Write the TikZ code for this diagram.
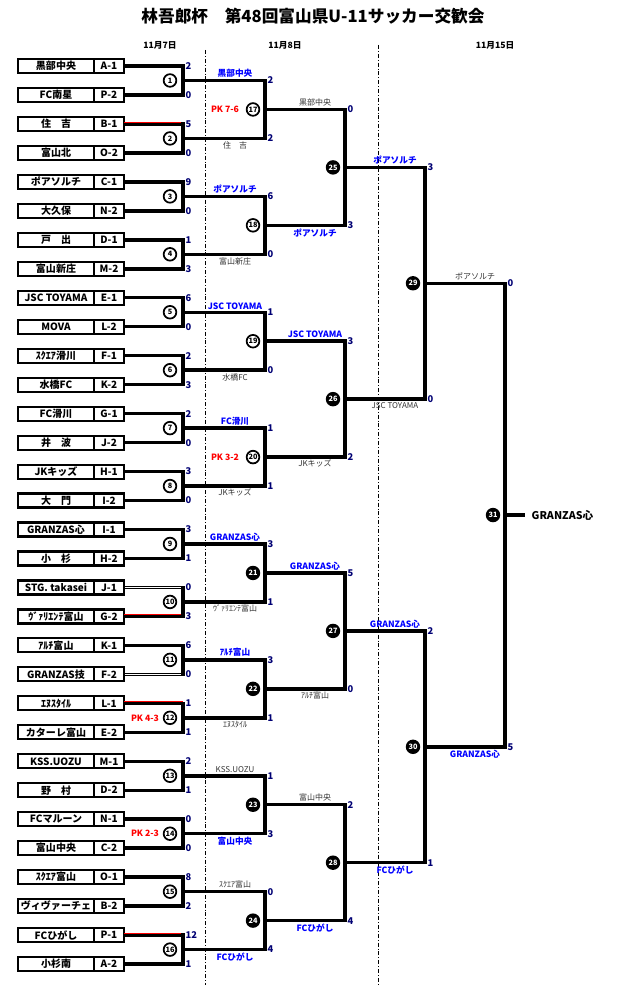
\documentclass[tikz,border=0pt]{standalone}
\usepackage{fontspec}
\setmainfont{Noto Sans CJK JP}
\begin{document}
\begin{tikzpicture}[x=0.75pt,y=-0.75pt,
  namebox/.style={draw,line width=1.6pt,minimum width=57pt,minimum height=10.5pt,inner sep=0pt,font=\fontsize{7.5}{8}\selectfont\bfseries},
  codebox/.style={draw,line width=1.6pt,minimum width=22.5pt,minimum height=10.5pt,inner sep=0pt,font=\fontsize{7.5}{8}\selectfont\bfseries},
  wn/.style={line width=2.6pt},
  wd/.style={double=white,double distance=1.2pt,line width=0.6pt},
  wire/.style={line width=2.6pt},
  sc/.style={anchor=west,inner sep=1pt,font=\fontsize{7}{8}\selectfont\bfseries,text=blue!45!black},
  lw/.style={inner sep=1pt,font=\fontsize{6.5}{7}\selectfont\bfseries,text=blue},
  ll/.style={inner sep=1pt,font=\fontsize{6}{7}\selectfont,text=black!80},
  pk/.style={font=\fontsize{6.5}{7}\selectfont\bfseries,text=red},
  mo/.style={circle,draw,line width=1.3pt,inner sep=0pt,minimum size=9.5pt,font=\fontsize{5.5}{6}\selectfont\bfseries},
  mf/.style={circle,draw,fill=black,line width=1.3pt,inner sep=0pt,minimum size=9.5pt,text=white,font=\fontsize{5.5}{6}\selectfont\bfseries},
  dl/.style={line width=0.6pt,dash pattern=on 3pt off 1.5pt on 0.6pt off 1.5pt}]
\useasboundingbox (0,0) rectangle (628,988);
\node[font=\fontsize{12.5}{14}\selectfont\bfseries] (title) at (313,16) {林吾郎杯　第48回富山県U-11サッカー交歓会};
\node[font=\fontsize{6.5}{7}\selectfont\bfseries] (d1) at (160,45) {11月7日};
\node[font=\fontsize{6.5}{7}\selectfont\bfseries] (d2) at (285,45) {11月8日};
\node[font=\fontsize{6.5}{7}\selectfont\bfseries] (d3) at (495,45) {11月15日};
\coordinate (v1a) at (205,50); \coordinate (v1b) at (205,985);
\coordinate (v2a) at (378,45); \coordinate (v2b) at (378,985);
\draw[dl] (v1a) -- (v1b);
\draw[dl] (v2a) -- (v2b);
% teams
\foreach \n/\c/\s [count=\i] in {黒部中央/A-1/wn,FC南星/P-2/wn,住　吉/B-1/wn,富山北/O-2/wn,ポアソルチ/C-1/wn,大久保/N-2/wn,戸　出/D-1/wn,富山新庄/M-2/wn,JSC TOYAMA/E-1/wn,MOVA/L-2/wn,ｽｸｴｱ滑川/F-1/wn,水橋FC/K-2/wn,FC滑川/G-1/wn,井　波/J-2/wn,JKキッズ/H-1/wn,大　門/I-2/wn,GRANZAS心/I-1/wn,小　杉/H-2/wn,STG. takasei/J-1/wd,ｳﾞｧﾘｴﾝﾃ富山/G-2/wn,ｱﾙﾁ富山/K-1/wn,GRANZAS技/F-2/wd,ｴﾇｽﾀｲﾙ/L-1/wn,カターレ富山/E-2/wn,KSS.UOZU/M-1/wn,野　村/D-2/wn,FCマルーン/N-1/wn,富山中央/C-2/wn,ｽｸｴｱ富山/O-1/wn,ヴィヴァーチェ/B-2/wn,FCひがし/P-1/wn,小杉南/A-2/wn}{
  \pgfmathsetmacro\yy{66+(\i-1)*28.97}
  \node[namebox] (t\i) at (56,\yy) {\n};
  \node[codebox] (c\i) at (109,\yy) {\c};
  \coordinate (a\i) at (183,\yy);
  \draw[\s] (c\i.east) -- (a\i);
}
% red marks on winners' lines
\foreach \i in {3,20,23,31}{
  \pgfmathsetmacro\yy{66+(\i-1)*28.97-1.8}
  \coordinate (rs\i) at (124,\yy); \coordinate (re\i) at (183,\yy);
  \draw[red,line width=0.8pt] (rs\i) -- (re\i);
}
% bracket levels
\foreach \lv/\xv/\xn/\cnt in {1/183/265/16,2/265/345/8,3/345/425/4,4/425/505/2,5/505/525/1}{
  \foreach \k in {1,...,\cnt}{
    \pgfmathsetmacro\bs{2^\lv}
    \pgfmathsetmacro\ymid{66+28.97*((\k-1)*\bs+(\bs-1)/2)}
    \pgfmathsetmacro\ytop{66+28.97*((\k-1)*\bs+(\bs/2-1)/2)}
    \pgfmathsetmacro\ybot{66+28.97*((\k-1)*\bs+\bs/2+(\bs/2-1)/2)}
    \coordinate (p\lv-\k-t) at (\xv,\ytop);
    \coordinate (p\lv-\k-b) at (\xv,\ybot);
    \coordinate (p\lv-\k-m) at (\xv,\ymid);
    \coordinate (p\lv-\k-o) at (\xn,\ymid);
    \draw[wire,line cap=rect] (p\lv-\k-t) -- (p\lv-\k-b);
    \draw[wire] (p\lv-\k-m) -- (p\lv-\k-o);
  }
}
% match numbers
\foreach \k in {1,...,16}{
  \pgfmathsetmacro\ymid{66+28.97*((\k-1)*2+0.5)}
  \node[mo] (m\k) at (170,\ymid) {\k};
}
\foreach \k/\lv/\j/\xx in {17/2/1/253,18/2/2/253,19/2/3/253,20/2/4/253,21/2/5/253,22/2/6/253,23/2/7/253,24/2/8/253,25/3/1/333,26/3/2/333,27/3/3/333,28/3/4/333,29/4/1/413,30/4/2/413,31/5/1/493}{
  \pgfmathsetmacro\bs{2^\lv}
  \pgfmathsetmacro\ymid{66+28.97*((\j-1)*\bs+(\bs-1)/2)}
  \ifnum\k<21 \node[mo] (m\k) at (\xx,\ymid) {\k};
  \else \node[mf] (m\k) at (\xx,\ymid) {\k}; \fi
}
% round 1 scores
\foreach \s [count=\i] in {2,0,5,0,9,0,1,3,6,0,2,3,2,0,3,0,3,1,0,3,6,0,1,1,2,1,0,0,8,2,12,1}{
  \pgfmathsetmacro\yy{66+(\i-1)*28.97}
  \node[sc] (s1-\i) at (184,\yy) {\s};
}
% later scores
\foreach \lv/\xx/\list in {2/266/{2,2,6,0,1,0,1,1,3,1,3,1,1,3,0,4},3/346/{0,3,3,2,5,0,2,4},4/426/{3,0,2,1},5/506/{0,5}}{
  \foreach \s [count=\k] in \list{
    \pgfmathsetmacro\bs{2^(\lv-1)}
    \pgfmathsetmacro\yy{66+28.97*((\k-1)*\bs+(\bs-1)/2)}
    \node[sc] (s\lv-\k) at (\xx,\yy) {\s};
  }
}
% labels
\foreach \lv/\xx/\list in {2/235/{黒部中央/lw,住　吉/ll,ポアソルチ/lw,富山新庄/ll,JSC TOYAMA/lw,水橋FC/ll,FC滑川/lw,JKキッズ/ll,GRANZAS心/lw,ｳﾞｧﾘｴﾝﾃ富山/ll,ｱﾙﾁ富山/lw,ｴﾇｽﾀｲﾙ/ll,KSS.UOZU/ll,富山中央/lw,ｽｸｴｱ富山/ll,FCひがし/lw},3/315/{黒部中央/ll,ポアソルチ/lw,JSC TOYAMA/lw,JKキッズ/ll,GRANZAS心/lw,ｱﾙﾁ富山/ll,富山中央/ll,FCひがし/lw},4/395/{ポアソルチ/lw,JSC TOYAMA/ll,GRANZAS心/lw,FCひがし/lw},5/475/{ポアソルチ/ll,GRANZAS心/lw}}{
  \foreach \t/\st [count=\k] in \list{
    \pgfmathsetmacro\bs{2^(\lv-1)}
    \pgfmathsetmacro\yy{66+28.97*((\k-1)*\bs+(\bs-1)/2)}
    \ifodd\k
      \node[\st,anchor=south] (l\lv-\k) at (\xx,\yy-1.5) {\t};
    \else
      \node[\st,anchor=north] (l\lv-\k) at (\xx,\yy+1.5) {\t};
    \fi
  }
}
\node[pk] (pk12) at (145,{66+28.97*22.5}) {PK 4-3};
\node[pk] (pk14) at (145,{66+28.97*26.5}) {PK 2-3};
\node[pk] (pk17) at (225,{66+28.97*1.5}) {PK 7-6};
\node[pk] (pk20) at (225,{66+28.97*13.5}) {PK 3-2};
\node[anchor=west,font=\fontsize{8}{9}\selectfont\bfseries] (champ) at (527,{66+28.97*15.5}) {GRANZAS心};
\end{tikzpicture}
\end{document}
